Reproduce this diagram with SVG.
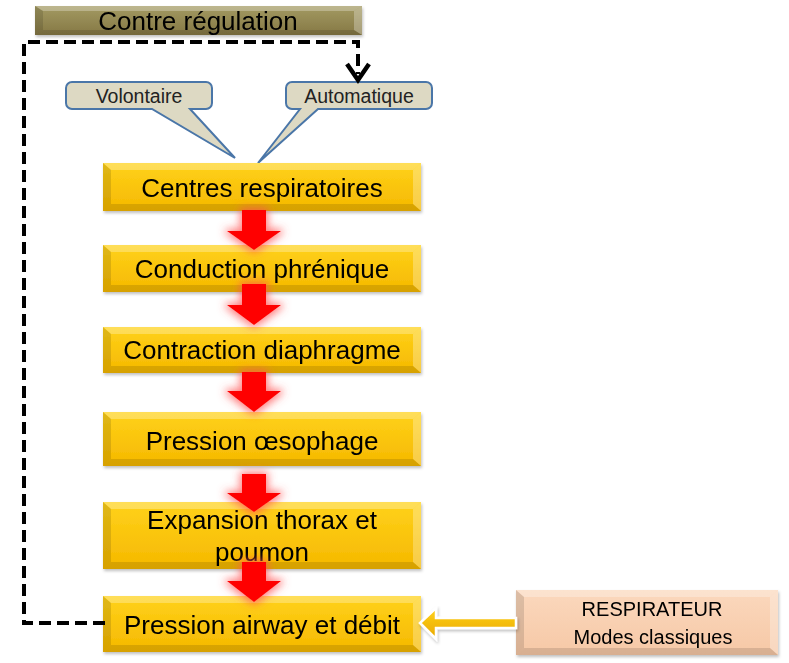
<svg xmlns="http://www.w3.org/2000/svg" width="789" height="663" viewBox="0 0 789 663">
<defs>
<linearGradient id="gY" x1="0" y1="0" x2="0" y2="1"><stop offset="0" stop-color="#ffd21a"/><stop offset="1" stop-color="#f5b800"/></linearGradient>
<linearGradient id="gO" x1="0" y1="0" x2="0" y2="1"><stop offset="0" stop-color="#a39a62"/><stop offset="1" stop-color="#857845"/></linearGradient>
<linearGradient id="gP" x1="0" y1="0" x2="0" y2="1"><stop offset="0" stop-color="#fbd8bd"/><stop offset="1" stop-color="#f6c8a6"/></linearGradient>
<linearGradient id="gA" x1="0" y1="0" x2="0" y2="1"><stop offset="0" stop-color="#ffd21a"/><stop offset="1" stop-color="#e9a800"/></linearGradient>
<filter id="glow" x="-50%" y="-50%" width="200%" height="200%">
<feMorphology in="SourceAlpha" operator="dilate" radius="2" result="d"/>
<feGaussianBlur in="d" stdDeviation="4" result="b"/>
<feFlood flood-color="#ff5050" flood-opacity="0.75"/>
<feComposite in2="b" operator="in" result="g"/>
<feMerge><feMergeNode in="g"/><feMergeNode in="SourceGraphic"/></feMerge>
</filter>
<filter id="sh" x="-10%" y="-10%" width="130%" height="140%">
<feGaussianBlur in="SourceAlpha" stdDeviation="1.5"/>
<feOffset dx="1" dy="2" result="o"/>
<feFlood flood-color="#000" flood-opacity="0.25"/>
<feComposite in2="o" operator="in" result="s"/>
<feMerge><feMergeNode in="s"/><feMergeNode in="SourceGraphic"/></feMerge>
</filter>
</defs>
<style>
.t{font-family:"Liberation Sans",Arial,sans-serif;fill:#000;text-anchor:middle}
.big{font-size:26px}
.sm{font-size:19.5px;fill:#222}
.mid{font-size:20px}
.hl{fill:#fff;opacity:0.28}
.dk{fill:#000;opacity:0.12}
.call{fill:#ddd9c3;stroke:#4a76a8;stroke-width:2}
.dash{fill:none;stroke:#000;stroke-width:4;stroke-dasharray:12 6}
.red{fill:#ff0000}
</style>

<g id="contre-regulation" filter="url(#sh)">
<rect x="35" y="6" width="327" height="29" fill="url(#gO)"/>
<polygon class="hl" points="35,6 362,6 354,11 43,11"/>
<polygon class="dk" points="35,6 43,11 43,30 35,35"/>
<polygon class="hl" points="362,6 362,35 354,30 354,11"/>
<polygon class="dk" points="35,35 43,30 354,30 362,35"/>
<text class="t" x="198" y="30" font-size="26">Contre régulation</text>
</g>

<g id="volontaire">
<path class="call" d="M72,82 H206 A6,6 0 0 1 212,88 V103 A6,6 0 0 1 206,109 H190 L235,158 L152,109 H72 A6,6 0 0 1 66,103 V88 A6,6 0 0 1 72,82 Z"/>
<text class="t sm" x="139" y="103">Volontaire</text>
</g>

<g id="automatique">
<path class="call" d="M292,82 H426 A6,6 0 0 1 432,88 V103 A6,6 0 0 1 426,109 H318 L258,163 L300,109 H292 A6,6 0 0 1 286,103 V88 A6,6 0 0 1 292,82 Z"/>
<text class="t sm" x="359" y="103">Automatique</text>
</g>

<g id="centres" filter="url(#sh)">
<rect x="103" y="163" width="318" height="48" fill="url(#gY)"/>
<polygon class="hl" points="103,163 421,163 413,170 111,170"/>
<polygon class="dk" points="103,163 111,170 111,204 103,211"/>
<polygon class="hl" points="421,163 421,211 413,204 413,170"/>
<polygon class="dk" points="103,211 111,204 413,204 421,211"/>
<text class="t big" x="262" y="197">Centres respiratoires</text>
</g>

<g id="conduction" filter="url(#sh)">
<rect x="103" y="245" width="318" height="47" fill="url(#gY)"/>
<polygon class="hl" points="103,245 421,245 413,252 111,252"/>
<polygon class="dk" points="103,245 111,252 111,285 103,292"/>
<polygon class="hl" points="421,245 421,292 413,285 413,252"/>
<polygon class="dk" points="103,292 111,285 413,285 421,292"/>
<text class="t big" x="262" y="278">Conduction phrénique</text>
</g>

<g id="contraction" filter="url(#sh)">
<rect x="103" y="327" width="318" height="46" fill="url(#gY)"/>
<polygon class="hl" points="103,327 421,327 413,334 111,334"/>
<polygon class="dk" points="103,327 111,334 111,366 103,373"/>
<polygon class="hl" points="421,327 421,373 413,366 413,334"/>
<polygon class="dk" points="103,373 111,366 413,366 421,373"/>
<text class="t big" x="262" y="359">Contraction diaphragme</text>
</g>

<g id="pression-oesophage" filter="url(#sh)">
<rect x="103" y="412" width="318" height="54" fill="url(#gY)"/>
<polygon class="hl" points="103,412 421,412 413,419 111,419"/>
<polygon class="dk" points="103,412 111,419 111,459 103,466"/>
<polygon class="hl" points="421,412 421,466 413,459 413,419"/>
<polygon class="dk" points="103,466 111,459 413,459 421,466"/>
<text class="t big" x="262" y="450">Pression œsophage</text>
</g>

<g id="expansion" filter="url(#sh)">
<rect x="103" y="502" width="318" height="67" fill="url(#gY)"/>
<polygon class="hl" points="103,502 421,502 413,509 111,509"/>
<polygon class="dk" points="103,502 111,509 111,562 103,569"/>
<polygon class="hl" points="421,502 421,569 413,562 413,509"/>
<polygon class="dk" points="103,569 111,562 413,562 421,569"/>
<text class="t big" x="262" y="529">Expansion thorax et</text>
<text class="t big" x="262" y="561">poumon</text>
</g>

<g id="pression-airway" filter="url(#sh)">
<rect x="103" y="596" width="318" height="56" fill="url(#gY)"/>
<polygon class="hl" points="103,596 421,596 413,603 111,603"/>
<polygon class="dk" points="103,596 111,603 111,645 103,652"/>
<polygon class="hl" points="421,596 421,652 413,645 413,603"/>
<polygon class="dk" points="103,652 111,645 413,645 421,652"/>
<text class="t big" x="262" y="634">Pression airway et débit</text>
</g>

<g id="respirateur" filter="url(#sh)">
<rect x="516" y="590" width="262" height="65" fill="url(#gP)"/>
<polygon class="hl" points="516,590 778,590 770,597 524,597"/>
<polygon class="dk" points="516,590 524,597 524,648 516,655"/>
<polygon class="hl" points="778,590 778,655 770,648 770,597"/>
<polygon class="dk" points="516,655 524,648 770,648 778,655"/>
<text class="t mid" x="652" y="616">RESPIRATEUR</text>
<text class="t mid" x="653" y="644">Modes classiques</text>
</g>

<g id="connectors">
<path class="dash" d="M105,623 H24 V42 H358 V74"/>
<path d="M347,64 L358,80 L369,64" fill="none" stroke="#000" stroke-width="4.5" stroke-linejoin="miter"/>
<g filter="url(#glow)">
<polygon class="red" points="242,210 266,210 266,231 281,231 254,250 227,231 242,231"/>
<polygon class="red" points="242,284 266,284 266,305 281,305 254,325 227,305 242,305"/>
<polygon class="red" points="242,372 266,372 266,391 281,391 254,412 227,391 242,391"/>
<polygon class="red" points="242,474 266,474 266,493 281,493 254,512 227,493 242,493"/>
<polygon class="red" points="242,562 266,562 266,581 281,581 254,602 227,581 242,581"/>
</g>
<polygon points="516,618 436,618 436,608 420,623 436,639 436,628 516,628" fill="url(#gA)" stroke="#fff" stroke-width="2.5" stroke-linejoin="miter" filter="url(#sh)"/>
</g>
</svg>
